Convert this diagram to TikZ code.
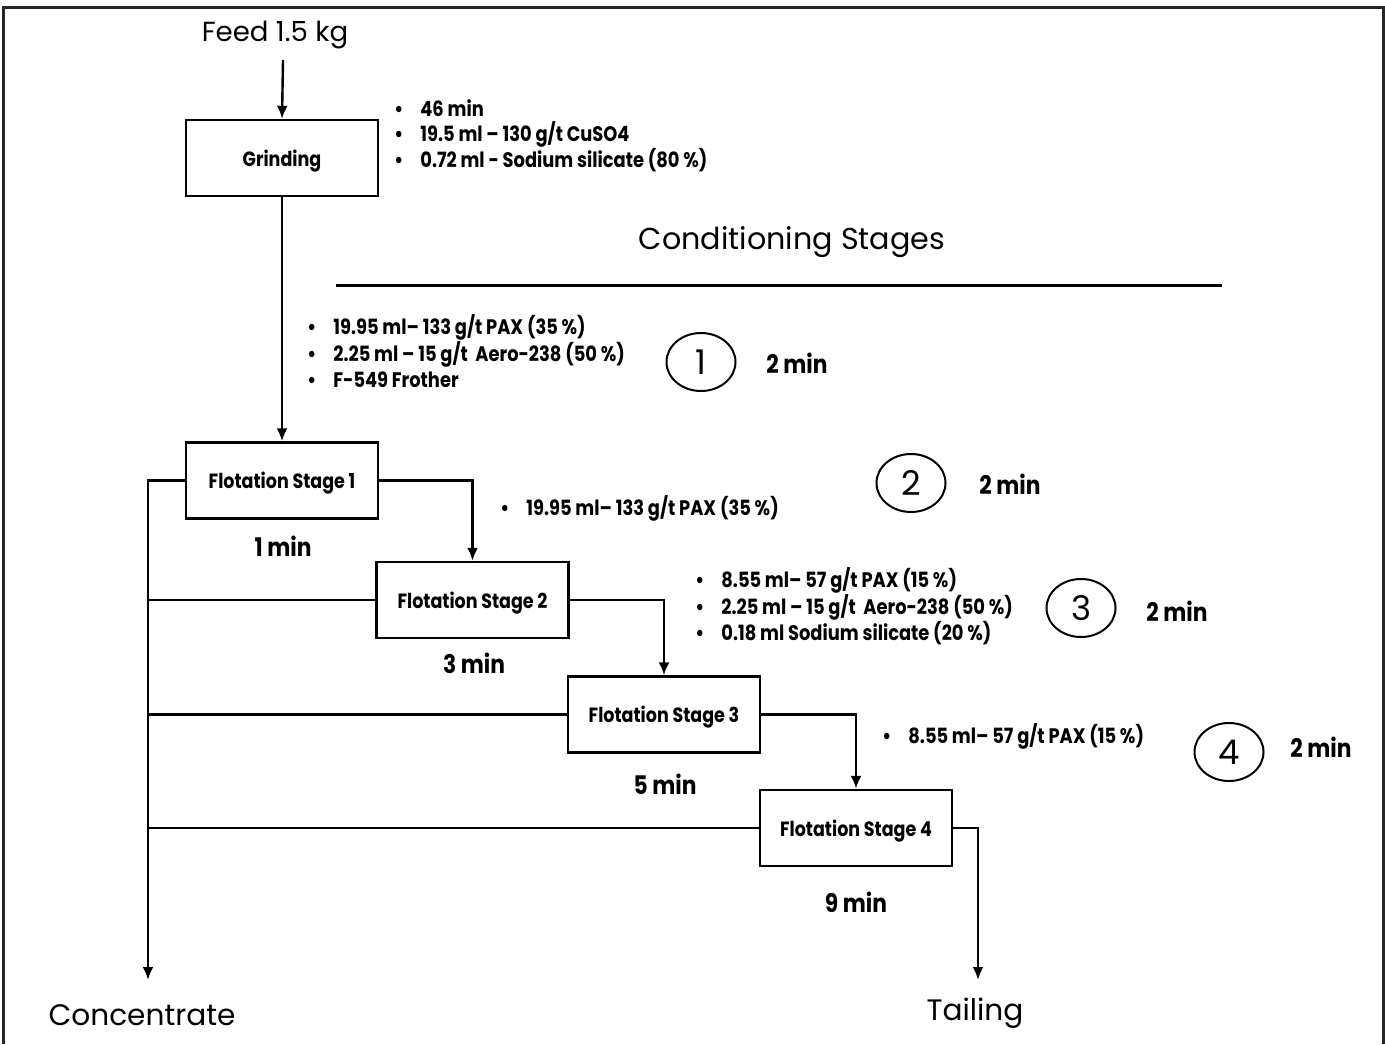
\documentclass[tikz,border=0pt]{standalone}
\usepackage{fontspec}
\setmainfont{Poppins}
\newfontfamily\bfam[FakeStretch=0.85]{Poppins}
\usetikzlibrary{arrows.meta,shapes.geometric}
\newcommand{\bl}[1]{\makebox[13pt][l]{\textbullet}#1}
\tikzset{
  line/.style={line width=1.2pt},
  arr/.style={line width=1.2pt,-{Latex[length=6.5pt,width=5.5pt]}},
  stagebox/.style={draw,line width=1.2pt,minimum width=96pt,minimum height=38pt,text depth=0pt,font=\bfam\bfseries\fontsize{10.3}{12}\selectfont},
  lst/.style={anchor=west,align=left,inner sep=0pt,font=\bfam\bfseries\fontsize{10.5}{12.8}\selectfont},
  tlab/.style={font=\bfam\bfseries\fontsize{12.8}{14}\selectfont},
  cnum/.style={draw,ellipse,line width=1pt,minimum width=34.5pt,minimum height=29pt,inner sep=0pt,font=\fontsize{17}{18}\selectfont},
  big/.style={font=\fontsize{14.8}{17}\selectfont},
}
\begin{document}
\begin{tikzpicture}[x=0.5pt,y=-0.5pt]
\useasboundingbox (0,0) rectangle (1385,1044);
\draw[line width=1.5pt,black!85] (3,1044) -- (3,7) -- (1383,7) -- (1383,1044);

% top
\node[font=\fontsize{13.8}{15}\selectfont] (feed) at (275,35) {Feed 1.5 kg};
\coordinate (fin) at (283,60);
\node[stagebox] (grind) at (282,158) {Grinding};
\node[lst] (l0) at (394,135.5) {\bl{46 min}\\\bl{19.5 ml – 130 g/t CuSO4}\\\bl{0.72 ml - Sodium silicate (80 \%)}};

\node[font=\fontsize{15.1}{18}\selectfont] (cond) at (792,242) {Conditioning Stages};
\coordinate (hl1) at (336,285);
\coordinate (hl2) at (1222,285);
\draw[line width=1.5pt] (hl1) -- (hl2);

% stages
\node[stagebox] (fs1) at (282,480.5) {Flotation Stage 1};
\node[stagebox] (fs2) at (472.5,600) {Flotation Stage 2};
\node[stagebox] (fs3) at (664,714.5) {Flotation Stage 3};
\node[stagebox] (fs4) at (856,828) {Flotation Stage 4};

\node[tlab] (t1) at (283,546) {1 min};
\node[tlab] (t2) at (474,663) {3 min};
\node[tlab] (t3) at (665,784) {5 min};
\node[tlab] (t4) at (856,902) {9 min};

% reagent lists
\node[lst] (l1) at (307,351) {\bl{19.95 ml– 133 g/t PAX (35 \%)}\\\bl{2.25 ml – 15 g/t \ Aero-238 (50 \%)}\\\bl{F-549 Frother}};
\node[lst] (l2) at (500,508) {\bl{19.95 ml– 133 g/t PAX (35 \%)}};
\node[lst] (l3) at (695,606) {\bl{8.55 ml– 57 g/t PAX (15 \%)}\\\bl{2.25 ml – 15 g/t \ Aero-238 (50 \%)}\\\bl{0.18 ml Sodium silicate (20 \%)}};
\node[lst] (l4) at (882,736) {\bl{8.55 ml– 57 g/t PAX (15 \%)}};

% circles
\node[cnum] (c1) at (701,362) {1};
\node[cnum] (c2) at (911,483) {2};
\node[cnum] (c3) at (1081,608) {3};
\node[cnum] (c4) at (1229,752) {4};
\node[tlab] (m1) at (797,363) {2 min};
\node[tlab] (m2) at (1010,484) {2 min};
\node[tlab] (m3) at (1177,611) {2 min};
\node[tlab] (m4) at (1321,747) {2 min};

% outputs
\coordinate (concend) at (148,980);
\coordinate (tailend) at (978,980);
\node[big] (conc) at (142,1015) {Concentrate};
\node[big] (tail) at (975,1013) {Tailing};

% connectors
\draw[arr] (fin) -- (grind.north);
\draw[arr] (grind.south) -- (fs1.north);
\draw[arr] (fs1.east) -| (fs2.north);
\draw[arr] (fs2.east) -| (fs3.north);
\draw[arr] (fs3.east) -| (fs4.north);
\draw[arr] (fs4.east) -| (tailend);
\draw[arr] (fs1.west) -| (concend);
\draw[line] (fs2.west) -- (fs2.west -| concend);
\draw[line] (fs3.west) -- (fs3.west -| concend);
\draw[line] (fs4.west) -- (fs4.west -| concend);
\end{tikzpicture}
\end{document}
